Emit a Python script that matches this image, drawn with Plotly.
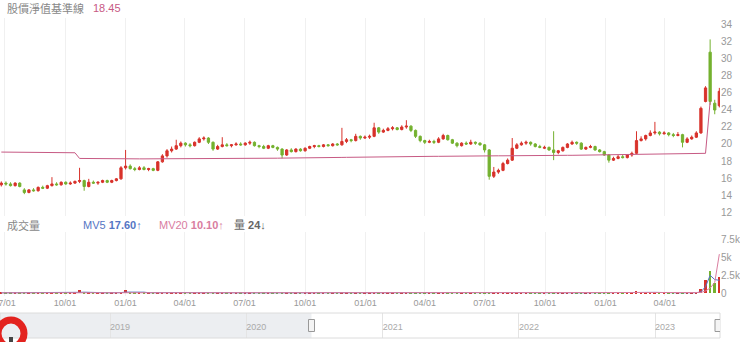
import plotly.graph_objects as go
import pandas as pd

# ---------------- data (weekly) ----------------
dates = pd.date_range("2020-06-26", periods=157, freq="7D")

opens = [
    15.2, 15.4, 15.3, 15.1, 15.4, 14.6, 14.3, 14.6, 14.5, 14.9,
    14.8, 15.1, 15.3, 15.2, 15.5, 15.3, 15.4, 15.6, 15.7, 15.0,
    15.5, 15.4, 15.5, 15.7, 15.5, 15.7, 15.9, 17.2, 17.4, 17.1,
    17.0, 17.2, 17.0, 17.1, 16.9, 17.9, 18.6, 19.2, 19.4, 19.8,
    20.1, 19.9, 19.8, 20.2, 20.6, 20.7, 20.2, 19.4, 19.7, 19.9,
    19.8, 19.9, 20.0, 19.9, 20.1, 20.2, 19.8, 19.7, 19.5, 19.8,
    19.6, 19.4, 18.7, 19.3, 19.1, 19.4, 19.2, 19.5, 19.7, 19.8,
    19.7, 19.9, 19.8, 20.0, 19.9, 20.3, 20.5, 20.4, 20.9, 20.7,
    20.8, 20.9, 21.9, 21.4, 21.6, 21.8, 21.9, 21.7, 22.0, 22.1,
    21.6, 20.9, 20.4, 20.2, 20.3, 20.2, 20.6, 21.0, 20.5, 20.1,
    19.8, 20.1, 20.0, 20.2, 20.1, 19.9, 19.3, 16.2, 16.7, 16.9,
    17.7, 18.1, 19.5, 19.9, 20.1, 20.2, 20.0, 19.7, 19.5, 19.6,
    19.3, 19.0, 19.2, 19.6, 20.0, 20.2, 20.1, 19.4, 19.6, 19.7,
    19.3, 19.1, 18.7, 18.1, 18.3, 18.5, 18.4, 18.7, 18.9, 20.4,
    20.6, 21.0, 21.3, 21.4, 21.2, 21.3, 21.1, 21.0, 21.1, 20.2,
    20.6, 20.8, 21.3, 25.0, 30.8, 24.8, 24.5,
]
highs = [
    15.6, 15.6, 15.5, 15.5, 15.5, 14.8, 14.7, 14.8, 15.0, 15.1,
    15.2, 16.1, 15.5, 15.6, 15.6, 15.6, 15.7, 17.2, 15.8, 15.9,
    15.7, 15.6, 15.8, 15.8, 15.8, 16.0, 17.4, 19.3, 17.6, 17.3,
    17.4, 17.4, 17.2, 17.2, 18.0, 18.8, 19.4, 19.7, 20.5, 20.3,
    20.2, 20.1, 20.3, 20.8, 20.9, 20.8, 20.3, 19.9, 20.8, 20.1,
    20.0, 20.2, 20.2, 20.2, 20.4, 20.3, 19.9, 19.9, 19.9, 19.9,
    19.7, 19.5, 19.4, 19.5, 19.5, 19.5, 19.6, 19.8, 19.9, 19.9,
    20.0, 20.0, 20.1, 20.1, 21.9, 20.7, 20.6, 21.2, 21.0, 21.0,
    21.1, 22.5, 22.0, 21.8, 22.0, 22.1, 22.0, 22.2, 22.8, 22.2,
    21.7, 21.0, 20.5, 20.5, 20.5, 20.8, 21.2, 21.1, 20.6, 20.2,
    20.2, 20.3, 20.5, 20.3, 20.2, 20.0, 19.4, 17.3, 17.1, 17.9,
    18.3, 20.7, 20.1, 20.3, 20.4, 20.3, 20.1, 19.9, 19.8, 19.7,
    21.5, 19.3, 19.7, 20.1, 20.4, 20.3, 20.2, 19.7, 19.9, 19.8,
    19.4, 19.2, 18.8, 18.5, 18.7, 18.7, 18.8, 19.1, 21.5, 20.9,
    21.1, 21.6, 22.6, 21.5, 21.5, 21.4, 21.3, 21.4, 21.2, 20.8,
    21.0, 21.5, 24.4, 26.8, 32.3, 25.2, 26.6,
]
lows = [
    15.0, 15.1, 15.0, 15.0, 14.9, 14.1, 14.2, 14.4, 14.4, 14.7,
    14.7, 15.0, 15.1, 15.1, 15.2, 15.2, 15.3, 15.4, 14.5, 14.9,
    15.3, 15.2, 15.4, 15.4, 15.4, 15.6, 15.8, 17.0, 17.0, 16.8,
    16.9, 16.9, 16.8, 16.8, 16.8, 17.8, 18.4, 19.0, 19.3, 19.6,
    19.7, 19.6, 19.7, 20.1, 20.4, 20.0, 19.2, 19.3, 19.6, 19.7,
    19.6, 19.8, 19.8, 19.8, 19.9, 19.7, 19.5, 19.4, 19.4, 19.5,
    19.2, 18.3, 18.6, 19.0, 19.0, 19.1, 19.1, 19.4, 19.5, 19.6,
    19.6, 19.7, 19.7, 19.8, 19.8, 20.1, 20.2, 20.3, 20.5, 20.6,
    20.6, 20.8, 21.2, 21.3, 21.5, 21.6, 21.6, 21.6, 21.8, 21.4,
    20.7, 20.2, 20.0, 20.1, 20.0, 20.1, 20.5, 20.4, 20.0, 19.6,
    19.7, 19.9, 19.9, 19.9, 19.8, 19.0, 15.8, 16.0, 16.5, 16.8,
    17.6, 18.0, 19.4, 19.8, 19.9, 19.8, 19.6, 19.5, 19.4, 19.2,
    18.1, 18.8, 19.1, 19.5, 19.9, 19.9, 19.3, 19.3, 19.5, 19.2,
    19.0, 18.6, 17.8, 18.0, 18.2, 18.3, 18.3, 18.5, 18.8, 20.3,
    20.4, 20.9, 21.1, 21.0, 21.1, 20.9, 20.8, 20.9, 19.6, 20.1,
    20.5, 20.7, 21.2, 24.9, 24.6, 23.5, 24.3,
]
closes = [
    15.4, 15.3, 15.1, 15.4, 15.0, 14.3, 14.6, 14.5, 14.9, 14.8,
    15.1, 15.3, 15.2, 15.5, 15.3, 15.4, 15.6, 15.7, 15.0, 15.5,
    15.4, 15.5, 15.7, 15.5, 15.7, 15.9, 17.2, 17.4, 17.1, 17.0,
    17.2, 17.0, 17.1, 16.9, 17.9, 18.6, 19.2, 19.4, 19.8, 20.1,
    19.9, 19.8, 20.2, 20.6, 20.7, 20.2, 19.4, 19.7, 19.9, 19.8,
    19.9, 20.0, 19.9, 20.1, 20.2, 19.8, 19.7, 19.5, 19.8, 19.6,
    19.4, 18.7, 19.3, 19.1, 19.4, 19.2, 19.5, 19.7, 19.8, 19.7,
    19.9, 19.8, 20.0, 19.9, 20.3, 20.5, 20.4, 20.9, 20.7, 20.8,
    20.9, 21.9, 21.4, 21.6, 21.8, 21.9, 21.7, 22.0, 22.1, 21.6,
    20.9, 20.4, 20.2, 20.3, 20.2, 20.6, 21.0, 20.5, 20.1, 19.8,
    20.1, 20.0, 20.2, 20.1, 19.9, 19.3, 16.2, 16.7, 16.9, 17.7,
    18.1, 19.5, 19.9, 20.1, 20.2, 20.0, 19.7, 19.6, 19.6, 19.3,
    19.0, 19.2, 19.6, 20.0, 20.2, 20.1, 19.4, 19.6, 19.7, 19.3,
    19.1, 18.7, 18.1, 18.3, 18.5, 18.4, 18.7, 18.9, 20.4, 20.6,
    21.0, 21.3, 21.4, 21.2, 21.3, 21.1, 21.0, 21.1, 20.2, 20.6,
    20.8, 21.3, 24.2, 26.6, 25.0, 24.0, 26.2,
]
baseline = [
    19.05, 19.05, 19.04, 19.04, 19.03, 19.03, 19.02, 19.02, 19.01, 19.01,
    19.00, 19.00, 18.99, 18.99, 18.98, 18.98, 18.97, 18.30, 18.29, 18.28,
    18.28, 18.27, 18.27, 18.26, 18.26, 18.26, 18.25, 18.25, 18.25, 18.25,
    18.25, 18.25, 18.25, 18.25, 18.25, 18.25, 18.25, 18.25, 18.25, 18.25,
    18.25, 18.25, 18.25, 18.25, 18.25, 18.26, 18.26, 18.26, 18.26, 18.27,
    18.27, 18.27, 18.28, 18.28, 18.29, 18.30, 18.30, 18.31, 18.32, 18.32,
    18.33, 18.34, 18.34, 18.35, 18.36, 18.36, 18.37, 18.38, 18.38, 18.39,
    18.40, 18.40, 18.41, 18.42, 18.42, 18.43, 18.44, 18.44, 18.45, 18.46,
    18.46, 18.47, 18.48, 18.48, 18.49, 18.50, 18.50, 18.51, 18.52, 18.52,
    18.53, 18.53, 18.54, 18.54, 18.55, 18.55, 18.56, 18.56, 18.57, 18.57,
    18.58, 18.58, 18.58, 18.59, 18.59, 18.60, 18.60, 18.60, 18.61, 18.61,
    18.62, 18.62, 18.62, 18.63, 18.63, 18.64, 18.64, 18.64, 18.65, 18.65,
    18.66, 18.66, 18.66, 18.67, 18.67, 18.68, 18.68, 18.68, 18.69, 18.69,
    18.70, 18.70, 18.71, 18.71, 18.72, 18.72, 18.73, 18.73, 18.74, 18.75,
    18.76, 18.77, 18.78, 18.79, 18.80, 18.81, 18.82, 18.83, 18.84, 18.85,
    18.86, 18.87, 18.88, 18.90, 25.00, None, None,
]
volume = [
    30, 25, 20, 35, 28, 60, 40, 30, 25, 30,
    35, 90, 30, 25, 30, 28, 35, 380, 120, 50,
    30, 25, 30, 28, 35, 40, 150, 420, 100, 40,
    30, 25, 28, 30, 60, 70, 55, 40, 80, 45,
    30, 28, 35, 50, 40, 35, 60, 30, 70, 30,
    25, 28, 30, 25, 40, 30, 25, 28, 35, 25,
    30, 55, 40, 25, 28, 30, 25, 28, 30, 25,
    22, 25, 28, 30, 90, 45, 30, 50, 30, 28,
    30, 70, 50, 35, 30, 28, 30, 35, 60, 40,
    45, 40, 30, 28, 25, 35, 40, 30, 28, 30,
    25, 28, 35, 25, 28, 45, 110, 70, 50, 55,
    45, 60, 40, 30, 28, 30, 25, 28, 25, 30,
    160, 50, 35, 30, 28, 30, 35, 28, 25, 30,
    28, 35, 50, 30, 25, 28, 30, 45, 220, 90,
    50, 45, 70, 40, 30, 28, 30, 25, 60, 35,
    40, 70, 600, 1800, 3100, 1400, 2300,
]
mv5 = [
    30, 28, 27, 28, 28, 34, 37, 39, 37, 37,
    32, 42, 42, 42, 42, 41, 32, 100, 119, 123,
    136, 121, 51, 33, 30, 32, 57, 135, 149, 150,
    148, 123, 45, 31, 35, 45, 49, 51, 61, 58,
    50, 48, 48, 48, 37, 38, 44, 43, 47, 45,
    41, 43, 37, 28, 30, 31, 30, 31, 32, 29,
    30, 35, 37, 35, 36, 36, 30, 27, 28, 27,
    26, 26, 26, 26, 39, 44, 45, 49, 49, 37,
    34, 42, 42, 41, 43, 43, 35, 32, 37, 39,
    42, 44, 42, 39, 34, 32, 32, 32, 32, 33,
    31, 28, 29, 29, 28, 32, 49, 57, 62, 67,
    66, 56, 50, 46, 41, 39, 31, 28, 27, 28,
    54, 59, 60, 59, 61, 35, 32, 30, 29, 30,
    30, 31, 34, 35, 34, 34, 33, 34, 75, 83,
    87, 91, 95, 63, 47, 43, 41, 31, 35, 36,
    38, 46, 161, 900, 2500, 1900, 1800,
]
mv20 = [
    32, 32, 31, 31, 31, 32, 32, 32, 32, 32,
    32, 34, 34, 34, 34, 34, 34, 51, 55, 56,
    56, 56, 56, 56, 56, 57, 63, 81, 84, 85,
    85, 85, 84, 84, 85, 87, 88, 89, 91, 91,
    72, 67, 63, 63, 63, 62, 58, 38, 40, 40,
    40, 40, 40, 39, 39, 38, 37, 36, 34, 33,
    33, 33, 34, 33, 33, 33, 32, 31, 31, 31,
    30, 30, 30, 30, 33, 34, 34, 35, 35, 35,
    35, 37, 38, 38, 38, 38, 38, 39, 40, 40,
    38, 38, 38, 38, 37, 37, 37, 36, 35, 35,
    34, 34, 34, 33, 33, 34, 38, 40, 41, 43,
    44, 45, 45, 45, 45, 45, 44, 44, 43, 42,
    48, 47, 45, 43, 42, 41, 37, 35, 34, 34,
    34, 34, 35, 35, 35, 35, 35, 35, 42, 45,
    46, 47, 48, 49, 49, 49, 48, 48, 49, 49,
    49, 50, 77, 300, 700, 1500, 5500,
]

price_ticks = [12, 14, 16, 18, 20, 22, 24, 26, 28, 30, 32, 34]
vol_ticks = [0, 2500, 5000, 7500]
vol_tick_labels = ["0", "2.5k", "5k", "7.5k"]

view_start, view_end = "2020-06-24", "2023-06-24"
nav_start, nav_end = "2018-03-12", "2023-06-24"

title_text = "股價淨值基準線"
title_value = "18.45"
vol_title = "成交量"
mv5_text = "MV5 <b>17.60</b>↑"
mv20_text = "MV20 <b>10.10</b>↑"
qty_text = "量 <b>24</b>↓"

# ---------------- styling ----------------
W, H = 740, 342
RED = "#d8322b"
GREEN = "#74b12f"
PINK = "#c75a84"
BLUE = "#5576c4"
MV20C = "#d97d9f"
GRID = "#f0f0f0"
FONT = "Liberation Sans, Arial, Noto Sans CJK TC, sans-serif"


def py(px):
    return (H - px) / H


def pxx(px):
    return px / 720.0


fig = go.Figure()
fig.add_trace(go.Candlestick(
    x=dates, open=opens, high=highs, low=lows, close=closes,
    increasing=dict(line=dict(color=RED, width=1), fillcolor=RED),
    decreasing=dict(line=dict(color=GREEN, width=1), fillcolor=GREEN),
    whiskerwidth=0, xaxis="x", yaxis="y", hoverinfo="skip", showlegend=False,
))
fig.add_trace(go.Scatter(
    x=dates, y=baseline, mode="lines", line=dict(color=PINK, width=1),
    xaxis="x", yaxis="y", hoverinfo="skip", showlegend=False, connectgaps=False,
))
bar_colors = [RED if c >= o else GREEN for o, c in zip(opens, closes)]
fig.add_trace(go.Bar(
    x=dates, y=volume, marker=dict(color=bar_colors, line=dict(width=0)),
    width=3 * 86400000, xaxis="x2", yaxis="y2", hoverinfo="skip", showlegend=False,
))
fig.add_trace(go.Scatter(
    x=dates, y=mv5, mode="lines", line=dict(color=BLUE, width=1),
    xaxis="x2", yaxis="y2", hoverinfo="skip", showlegend=False,
))
fig.add_trace(go.Scatter(
    x=dates, y=mv20, mode="lines", line=dict(color=MV20C, width=1),
    xaxis="x2", yaxis="y2", hoverinfo="skip", showlegend=False,
))
fig.add_trace(go.Scatter(
    x=[nav_start, nav_end], y=[None, None], mode="lines",
    xaxis="x3", yaxis="y3", hoverinfo="skip", showlegend=False,
))

fig.update_layout(
    width=W, height=H,
    margin=dict(l=0, r=20, t=0, b=0, autoexpand=False),
    paper_bgcolor="white", plot_bgcolor="white",
    font=dict(family=FONT, size=10, color="#999"),
    showlegend=False,
    bargap=0,
    xaxis=dict(
        domain=[0, 1], anchor="y", type="date", range=[view_start, view_end],
        showticklabels=False, showgrid=True, gridcolor=GRID, gridwidth=1,
        dtick="M3", tick0="2020-07-01", zeroline=False, showline=False,
        rangeslider=dict(visible=False), ticks="", automargin=False,
    ),
    yaxis=dict(
        domain=[py(216), py(18)], anchor="x", side="right",
        range=[11.53, 34.82], tickvals=price_ticks,
        showgrid=False, zeroline=False, ticks="", showline=False,
        tickfont=dict(size=10, color="#999"), automargin=False,
    ),
    xaxis2=dict(
        domain=[0, 1], anchor="y2", type="date", matches="x",
        dtick="M3", tick0="2020-07-01", tickformat="%m/%d",
        showgrid=True, gridcolor=GRID, zeroline=False, showline=False, ticks="",
        tickfont=dict(size=9, color="#999"), ticklabeloverflow="allow",
        automargin=False,
    ),
    yaxis2=dict(
        domain=[py(296), py(232)], anchor="x2", side="right",
        range=[-420, 8630], tickvals=vol_ticks, ticktext=vol_tick_labels,
        showgrid=False, zeroline=False, ticks="", showline=False,
        tickfont=dict(size=10, color="#999"), automargin=False,
    ),
    xaxis3=dict(
        domain=[0, 1], anchor="y3", type="date", range=[nav_start, nav_end],
        dtick="M12", tick0="2019-01-01", tickformat="%Y",
        ticklabelposition="inside right", showgrid=True, gridcolor="#e4e4e4",
        zeroline=False, showline=False, ticks="",
        tickfont=dict(size=9, color="#aaa"), automargin=False,
    ),
    yaxis3=dict(
        domain=[py(338), py(313)], anchor="x3", range=[0, 1],
        visible=False, fixedrange=True,
    ),
)

shapes = [
    # navigator frame
    dict(type="rect", xref="x3 domain", yref="y3 domain", x0=0, x1=1, y0=0, y1=1,
         line=dict(color="#dcdcdc", width=1), fillcolor="rgba(0,0,0,0)", layer="above"),
    # area outside the visible range
    dict(type="rect", xref="x3", yref="y3 domain", x0=nav_start, x1=view_start, y0=0, y1=1,
         line=dict(width=0), fillcolor="rgba(200,206,214,0.35)", layer="below"),
    # handles
    dict(type="rect", xref="x3", yref="y3 domain", xsizemode="pixel", xanchor=view_start,
         x0=-3, x1=3, ysizemode="pixel", yanchor=0.5, y0=-6, y1=6,
         line=dict(color="#999", width=1), fillcolor="#f4f4f4", layer="above"),
    dict(type="rect", xref="x3", yref="y3 domain", xsizemode="pixel", xanchor=view_end,
         x0=-5, x1=1, ysizemode="pixel", yanchor=0.5, y0=-6, y1=6,
         line=dict(color="#999", width=1), fillcolor="#f4f4f4", layer="above"),
    # red logo at bottom-left
    dict(type="circle", xref="paper", yref="paper",
         x0=pxx(-2), x1=pxx(24), y0=py(347), y1=py(320),
         line=dict(color="#e3231f", width=7), fillcolor="rgba(0,0,0,0)", layer="above"),
    dict(type="rect", xref="paper", yref="paper",
         x0=pxx(9), x1=pxx(13), y0=py(342), y1=py(337),
         line=dict(width=0), fillcolor="#444", layer="above"),
]
fig.update_layout(shapes=shapes)

annotations = [
    dict(text=title_text, x=pxx(5), y=py(8), xref="paper", yref="paper",
         xanchor="left", yanchor="middle", showarrow=False,
         font=dict(family="Noto Sans CJK TC", size=11, color="#888")),
    dict(text=title_value, x=pxx(91), y=py(8), xref="paper", yref="paper",
         xanchor="left", yanchor="middle", showarrow=False,
         font=dict(family=FONT, size=11, color=PINK)),
    dict(text=vol_title, x=pxx(5), y=py(225), xref="paper", yref="paper",
         xanchor="left", yanchor="middle", showarrow=False,
         font=dict(family="Noto Sans CJK TC", size=11, color="#888")),
    dict(text=mv5_text, x=pxx(81), y=py(225), xref="paper", yref="paper",
         xanchor="left", yanchor="middle", showarrow=False,
         font=dict(family=FONT, size=11, color=BLUE)),
    dict(text=mv20_text, x=pxx(157), y=py(225), xref="paper", yref="paper",
         xanchor="left", yanchor="middle", showarrow=False,
         font=dict(family=FONT, size=11, color=MV20C)),
    dict(text=qty_text, x=pxx(232), y=py(225), xref="paper", yref="paper",
         xanchor="left", yanchor="middle", showarrow=False,
         font=dict(family="Liberation Sans, Noto Sans CJK TC", size=11, color="#666")),
]
fig.update_layout(annotations=annotations)

fig.write_html("out.html", config={"displayModeBar": False})
